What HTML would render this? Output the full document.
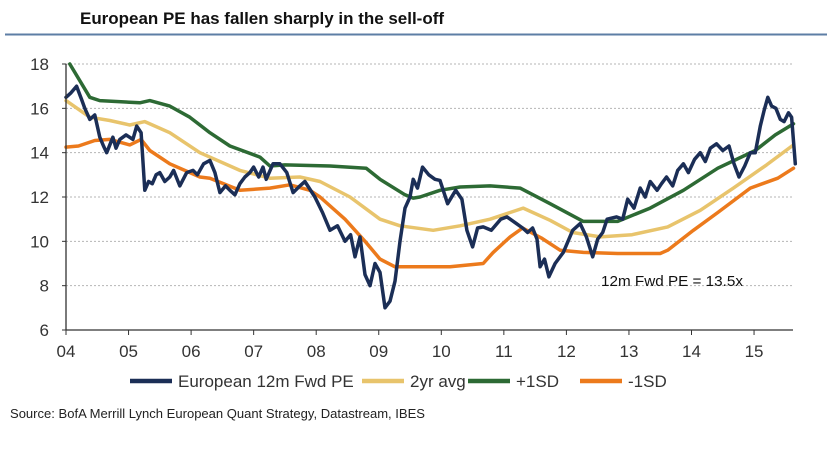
<!DOCTYPE html>
<html><head><meta charset="utf-8"><style>
body{margin:0;background:#fff;width:827px;height:444px;overflow:hidden;font-family:"Liberation Sans",sans-serif}
</style></head><body>
<svg id="chart" width="827" height="444" xmlns="http://www.w3.org/2000/svg">
<text x="80" y="24" font-size="17" font-weight="bold" fill="#111" textLength="364" lengthAdjust="spacingAndGlyphs">European PE has fallen sharply in the sell-off</text>
<line x1="5" y1="34.5" x2="827" y2="34.5" stroke="#5d7ea5" stroke-width="2"/>
<g id="grid"></g><g id="series"></g><g id="axes"></g>
<text x="601" y="286" font-size="15" fill="#111" textLength="142" lengthAdjust="spacingAndGlyphs">12m Fwd PE = 13.5x</text>
<g id="legend"></g>
<text x="10" y="418" font-size="13" fill="#222" textLength="415" lengthAdjust="spacingAndGlyphs">Source: BofA Merrill Lynch European Quant Strategy, Datastream, IBES</text>
</svg>
<script>
const yTicks=[6,8,10,12,14,16,18];
const xTickYears=[2004,2005,2006,2007,2008,2009,2010,2011,2012,2013,2014,2015];
const xTickLabels=["04","05","06","07","08","09","10","11","12","13","14","15"];
const peT=[2004.0,2004.08,2004.17,2004.25,2004.3,2004.38,2004.46,2004.54,2004.6,2004.65,2004.75,2004.8,2004.86,2004.96,2005.07,2005.13,2005.2,2005.26,2005.32,2005.38,2005.44,2005.5,2005.58,2005.66,2005.72,2005.82,2005.93,2006.03,2006.1,2006.2,2006.3,2006.38,2006.46,2006.55,2006.62,2006.7,2006.78,2006.86,2006.94,2007.0,2007.08,2007.15,2007.2,2007.31,2007.42,2007.53,2007.63,2007.74,2007.82,2007.98,2008.1,2008.22,2008.34,2008.46,2008.55,2008.62,2008.7,2008.78,2008.86,2008.94,2009.02,2009.1,2009.18,2009.26,2009.34,2009.42,2009.5,2009.55,2009.62,2009.7,2009.8,2009.9,2009.98,2010.1,2010.23,2010.33,2010.41,2010.5,2010.58,2010.67,2010.8,2010.95,2011.05,2011.2,2011.3,2011.38,2011.46,2011.53,2011.58,2011.65,2011.72,2011.82,2011.95,2012.1,2012.22,2012.32,2012.42,2012.5,2012.58,2012.65,2012.8,2012.9,2012.98,2013.08,2013.18,2013.26,2013.34,2013.45,2013.52,2013.6,2013.7,2013.78,2013.87,2013.95,2014.05,2014.14,2014.22,2014.3,2014.4,2014.5,2014.6,2014.68,2014.76,2014.85,2014.94,2015.02,2015.1,2015.16,2015.22,2015.28,2015.35,2015.42,2015.48,2015.55,2015.6,2015.66];
const peV=[16.5,16.7,17.0,16.4,16.0,15.5,15.7,14.7,14.3,14.0,14.7,14.2,14.6,14.8,14.6,15.2,14.9,12.3,12.7,12.6,13.0,13.1,12.7,12.9,13.2,12.5,13.1,13.2,13.0,13.5,13.65,13.1,12.2,12.5,12.3,12.1,12.6,12.9,13.1,13.35,12.9,13.35,12.8,13.5,13.5,13.1,12.2,12.5,12.7,12.0,11.3,10.5,10.7,10.0,10.3,9.3,10.2,8.5,8.0,9.0,8.6,7.0,7.3,8.2,10.0,11.5,12.0,12.8,12.4,13.35,13.0,12.8,12.75,11.7,12.3,11.9,10.5,9.75,10.6,10.65,10.5,11.0,11.1,10.8,10.6,10.4,10.6,10.1,8.85,9.2,8.4,9.0,9.5,10.5,10.8,10.2,9.3,10.1,10.4,11.0,11.1,11.0,11.9,11.5,12.4,12.0,12.7,12.3,12.6,12.9,12.5,13.2,13.5,13.1,13.7,14.0,13.6,14.2,14.4,14.1,14.3,13.5,12.9,13.4,14.0,14.0,15.2,15.9,16.5,16.1,16.0,15.5,15.4,15.8,15.6,13.5];
const avgT=[2004.0,2004.38,2004.7,2005.02,2005.26,2005.66,2006.14,2006.78,2007.26,2007.74,2008.06,2008.54,2009.02,2009.34,2009.87,2010.3,2010.78,2011.31,2011.74,2012.1,2012.54,2013.05,2013.62,2014.14,2014.67,2015.2,2015.63];
const avgV=[16.35,15.6,15.45,15.25,15.4,14.9,14.0,13.2,12.85,12.9,12.7,12.0,11.0,10.7,10.5,10.7,11.0,11.5,10.95,10.4,10.2,10.3,10.65,11.4,12.4,13.45,14.35];
const upT=[2004.06,2004.38,2004.54,2005.18,2005.34,2005.66,2005.98,2006.3,2006.62,2007.1,2007.26,2007.5,2008.22,2008.8,2009.02,2009.42,2009.55,2009.66,2009.98,2010.3,2010.78,2011.26,2011.74,2012.27,2012.82,2013.34,2013.87,2014.42,2015.02,2015.34,2015.63];
const upV=[18.0,16.5,16.35,16.25,16.35,16.1,15.6,14.9,14.3,13.8,13.4,13.45,13.4,13.3,12.8,12.1,11.95,12.0,12.3,12.45,12.5,12.4,11.7,10.9,10.9,11.5,12.3,13.3,14.1,14.8,15.3];
const dnT=[2004.0,2004.2,2004.46,2004.7,2005.02,2005.2,2005.34,2005.66,2006.14,2006.3,2006.78,2007.26,2007.58,2007.9,2008.06,2008.46,2008.78,2009.02,2009.26,2009.5,2010.14,2010.67,2010.83,2011.1,2011.3,2011.6,2011.9,2012.27,2012.82,2013.5,2013.62,2014.03,2014.42,2014.94,2015.38,2015.63];
const dnV=[14.25,14.3,14.55,14.6,14.35,14.6,14.1,13.5,12.9,12.85,12.3,12.4,12.55,12.3,12.0,11.0,10.0,9.2,8.85,8.85,8.85,9.0,9.5,10.2,10.6,10.15,9.6,9.5,9.45,9.45,9.6,10.5,11.3,12.4,12.85,13.3];

const NS="http://www.w3.org/2000/svg";
const X0=66,X1=793,YT=64,YB=330;
const xs=t=>X0+(t-2004)*62.55;
const ys=v=>YB-(v-6)*(YB-YT)/12;
function mk(tag,attrs,parent){const e=document.createElementNS(NS,tag);for(const k in attrs)e.setAttribute(k,attrs[k]);parent.appendChild(e);return e;}
const grid=document.getElementById('grid'),axes=document.getElementById('axes'),ser=document.getElementById('series'),leg=document.getElementById('legend');
yTicks.forEach(v=>{
 if(v>6){const g=mk('line',{x1:X0,x2:X1,y1:ys(v),y2:ys(v),stroke:'#b5b5b5','stroke-width':1,'stroke-dasharray':'2,2'},grid);
 
 }
 const tk=mk('line',{x1:X0-4,x2:X0,y1:ys(v),y2:ys(v),stroke:'#333'},axes);
 
 
 const t=mk('text',{x:49,y:ys(v)+6,'font-size':17,'text-anchor':'end',fill:'#333'},axes);t.textContent=v;
 
 
});
const ya=mk('line',{x1:X0,x2:X0,y1:YT,y2:YB,stroke:'#333','stroke-width':1.3},axes);


const xa=mk('line',{x1:X0,x2:X1,y1:YB,y2:YB,stroke:'#333','stroke-width':1.3},axes);


xTickYears.forEach((yr,i)=>{
 const tk=mk('line',{x1:xs(yr),x2:xs(yr),y1:YB,y2:YB+5,stroke:'#333'},axes);
 
 
 const t=mk('text',{x:xs(yr),y:YB+27,'font-size':17,'text-anchor':'middle',fill:'#333'},axes);t.textContent=xTickLabels[i];
 
 
});
function line(T,V,col,name,w){const d=T.map((t,i)=>(i?'L':'M')+xs(t).toFixed(1)+','+ys(V[i]).toFixed(1)).join('');
 const p=mk('path',{d:d,fill:'none',stroke:col,'stroke-width':w,'stroke-linejoin':'round','stroke-linecap':'round'},ser);
 
 }
line(dnT,dnV,'#ec7a1c','series-minus-1sd',3.5);
line(avgT,avgV,'#e8c46c','series-2yr-avg',3.5);
line(upT,upV,'#2d6a34','series-plus-1sd',3.5);
line(peT,peV,'#1b2e56','series-european-pe',3.5);
const items=[['European 12m Fwd PE','#1b2e56',130,'legend-entry-pe'],['2yr avg','#e8c46c',362,'legend-entry-2yr-avg'],['+1SD','#2d6a34',468,'legend-entry-plus-1sd'],['-1SD','#ec7a1c',580,'legend-entry-minus-1sd']];
items.forEach(it=>{const g=mk('g',{},leg);
 
 
 mk('line',{x1:it[2],x2:it[2]+42,y1:381,y2:381,stroke:it[1],'stroke-width':4.5},g);
 const t=mk('text',{x:it[2]+48,y:387,'font-size':17,fill:'#333'},g);t.textContent=it[0];});
</script>
</body></html>
